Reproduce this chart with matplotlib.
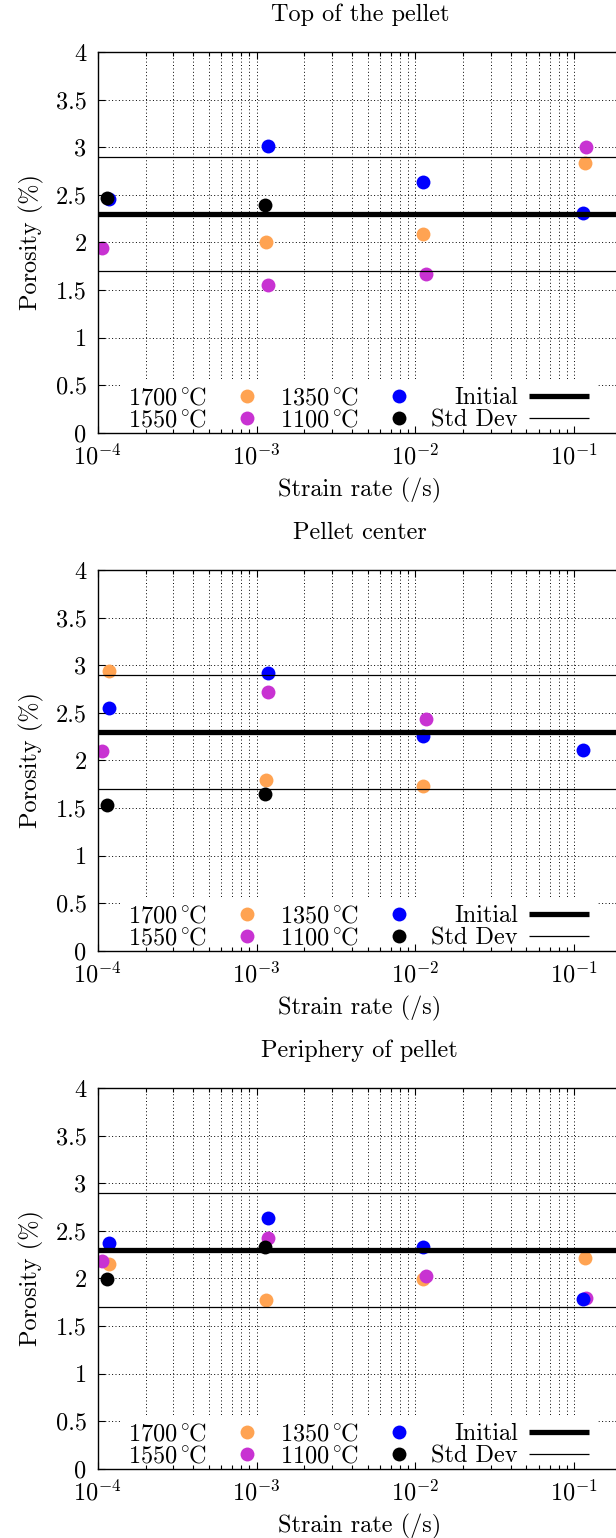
import numpy as np
import matplotlib
matplotlib.use("Agg")
import matplotlib.pyplot as plt
from matplotlib.lines import Line2D
from matplotlib.ticker import FuncFormatter, MultipleLocator, LogLocator, NullFormatter

plt.rcParams["font.family"] = "serif"
plt.rcParams["font.serif"] = ["cmr10"]
plt.rcParams["mathtext.fontset"] = "cm"
plt.rcParams["axes.unicode_minus"] = False
plt.rcParams["font.size"] = 17.5

# strain rates (/s) per test temperature
rate_1700 = [1.18e-4, 1.14e-3, 1.12e-2, 0.117]
rate_1550 = [1.07e-4, 1.19e-3, 1.16e-2, 0.118]
rate_1350 = [1.17e-4, 1.18e-3, 1.11e-2, 0.113]
rate_1100 = [1.14e-4, 1.13e-3]

# porosity (%) - top of the pellet
top_1700 = [np.nan, 2.01, 2.09, 2.83]
top_1550 = [1.94, 1.55, 1.67, 3.00]
top_1350 = [2.46, 3.01, 2.63, 2.31]
top_1100 = [2.47, 2.39]

# porosity (%) - pellet center
center_1700 = [2.94, 1.80, 1.73, np.nan]
center_1550 = [2.10, 2.72, 2.44, np.nan]
center_1350 = [2.55, 2.92, 2.26, 2.11]
center_1100 = [1.53, 1.65]

# porosity (%) - periphery
periph_1700 = [2.15, 1.77, 1.99, 2.22]
periph_1550 = [2.18, 2.42, 2.03, 1.79]
periph_1350 = [2.37, 2.64, 2.33, 1.78]
periph_1100 = [1.99, 2.33]

initial_porosity = 2.3
std_dev = 0.6

titles = ["Top of the pellet", "Pellet center", "Periphery of pellet"]
panels = [
    (top_1700, top_1550, top_1350, top_1100),
    (center_1700, center_1550, center_1350, center_1100),
    (periph_1700, periph_1550, periph_1350, periph_1100),
]
rates = [rate_1700, rate_1550, rate_1350, rate_1100]
labels = [r"$1700^\circ\hspace{-0.26}\mathrm{C}$", r"$1550^\circ\hspace{-0.26}\mathrm{C}$",
          r"$1350^\circ\hspace{-0.26}\mathrm{C}$", r"$1100^\circ\hspace{-0.26}\mathrm{C}$"]
colors = ["#ffa352", "#c832d2", "#0000ff", "#000000"]

fig = plt.figure(figsize=(6.16, 15.38), dpi=100)
bottoms = [0.7185, 0.3817, 0.0449]
left, width, height = 0.1586, 0.851, 0.2477

grid_style = dict(color="black", linestyle=(0, (1, 2.5)), linewidth=0.7)

for title, vals, bottom in zip(titles, panels, bottoms):
    pos = [left, bottom, width, height]
    ax = fig.add_axes(pos)
    ax.set_xscale("log")
    ax.set_xlim(1e-4, 0.2)
    ax.set_ylim(0, 4)
    ax.yaxis.set_major_locator(MultipleLocator(0.5))
    ax.xaxis.set_minor_locator(LogLocator(base=10, subs=np.arange(2, 10)))
    ax.grid(True, which="major", **grid_style)
    ax.grid(True, which="minor", axis="x", **grid_style)
    ax.tick_params(which="both", length=0, labelbottom=False, labelleft=False)
    for s in ax.spines.values():
        s.set_visible(False)

    handles = []
    for r, v, lab, c in zip(rates, vals, labels, colors):
        h, = ax.plot(r, v, "o", ms=10, mew=0, color=c, label=lab, zorder=3)
        handles.append(h)
    ax.axhline(initial_porosity, color="black", lw=3.8, zorder=4)
    ax.axhline(initial_porosity + std_dev, color="black", lw=0.9, zorder=4)
    ax.axhline(initial_porosity - std_dev, color="black", lw=0.9, zorder=4)
    handles.append(Line2D([], [], color="black", lw=3.8, solid_capstyle="butt", label="Initial"))
    handles.append(Line2D([], [], color="black", lw=0.9, solid_capstyle="butt", label="Std Dev"))

    leg = ax.legend(handles=handles, ncol=3, loc="lower right",
                    bbox_to_anchor=(0.9533, -0.016), markerfirst=False,
                    frameon=True, facecolor="white", edgecolor="none",
                    framealpha=1, fancybox=False, borderpad=0.33,
                    handlelength=2.5, handletextpad=0.44, columnspacing=0.08,
                    labelspacing=-0.02, borderaxespad=0)

    # overlay axes carrying ticks, labels and the frame
    axt = fig.add_axes(pos, sharex=ax, sharey=ax)
    axt.patch.set_visible(False)
    axt.grid(False)
    axt.xaxis.set_major_formatter(FuncFormatter(lambda x, p: r"$10^{%d}$" % round(np.log10(x))))
    axt.xaxis.set_minor_formatter(NullFormatter())
    axt.yaxis.set_major_formatter(FuncFormatter(lambda y, p: "%g" % y))
    axt.tick_params(which="both", direction="in", top=True, right=True, width=0.8)
    axt.tick_params(which="major", length=5, pad=8)
    axt.tick_params(which="minor", length=3)
    for s in axt.spines.values():
        s.set_linewidth(1.0)
    axt.set_title(title, fontsize=17.5, pad=22)
    axt.set_xlabel("Strain rate (/s)", labelpad=6)
    axt.set_ylabel("Porosity (%)", labelpad=8)

fig.savefig("out.png", dpi=100)
